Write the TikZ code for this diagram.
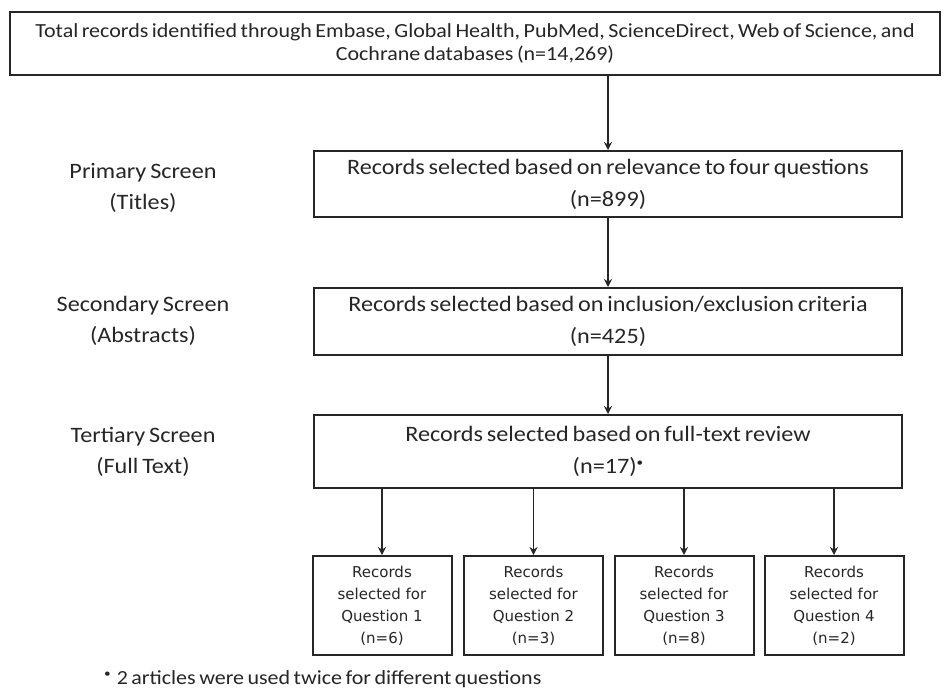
\documentclass[tikz,border=0pt]{standalone}
\usepackage{fontspec}
\setmainfont{Carlito}[FakeStretch=1.1,WordSpace=0.7]
\newfontfamily\qfont{DejaVu Sans}
\usetikzlibrary{arrows.meta}
\definecolor{txt}{HTML}{262626}
\tikzset{
  box/.style={draw=black!85, line width=2pt, rectangle, align=center, text=txt, inner sep=2pt},
  mainbox/.style={box, minimum width=588pt, font=\fontsize{22}{32}\selectfont},
  qbox/.style={box, minimum width=139pt, minimum height=99pt, font=\qfont\fontsize{15}{22}\selectfont},
  lbl/.style={align=center, text=txt, font=\fontsize{22}{31}\selectfont},
  arr/.style={draw=black!85, line width=1.6pt, -{Stealth[length=8pt,width=8pt]}},
}
\newcommand{\smbul}{{\fontsize{12}{12}\selectfont\raisebox{1.2ex}{•}}}
\begin{document}
\begin{tikzpicture}[x=1pt,y=-1pt]
\useasboundingbox (0,0) rectangle (948,689);
\fill[white] (0,0) rectangle (948,689);
\node[box, minimum width=930pt, minimum height=63pt, font=\fontsize{20}{23}\selectfont] (top) at (475,43.5)
  {Total records identified through Embase, Global Health, PubMed, ScienceDirect, Web of Science, and\\Cochrane databases (n=14,269)};
\node[mainbox, minimum height=66pt] (prim) at (608,184) {Records selected based on relevance to four questions\\(n=899)};
\node[mainbox, minimum height=67pt] (sec) at (608,321.5) {Records selected based on inclusion/exclusion criteria\\(n=425)};
\node[mainbox, minimum height=73pt] (tert) at (608,451.5) {Records selected based on full-text review\\(n=17)\smbul};
\node[lbl] (lp) at (143,187.5) {Primary Screen\\(Titles)};
\node[lbl] (ls) at (143,321) {Secondary Screen\\(Abstracts)};
\node[lbl] (lt) at (143,452) {Tertiary Screen\\(Full Text)};
\node[qbox] (q1) at (382,605.5) {Records\\selected for\\Question 1\\(n=6)};
\node[qbox] (q2) at (533.5,605.5) {Records\\selected for\\Question 2\\(n=3)};
\node[qbox] (q3) at (684,605.5) {Records\\selected for\\Question 3\\(n=8)};
\node[qbox] (q4) at (834,605.5) {Records\\selected for\\Question 4\\(n=2)};
\node[anchor=west, text=txt, inner sep=0pt, font=\fontsize{20}{24}\selectfont] (fn) at (104,679)
  {\smbul\hspace{6pt}2 articles were used twice for different questions};
\draw[arr] (prim.north |- top.south) -- (prim.north);
\draw[arr] (prim.south) -- (sec.north);
\draw[arr] (sec.south) -- (tert.north);
\draw[arr] (q1.north |- tert.south) -- (q1.north);
\draw[arr] (q2.north |- tert.south) -- (q2.north);
\draw[arr] (q3.north |- tert.south) -- (q3.north);
\draw[arr] (q4.north |- tert.south) -- (q4.north);
\end{tikzpicture}
\end{document}
